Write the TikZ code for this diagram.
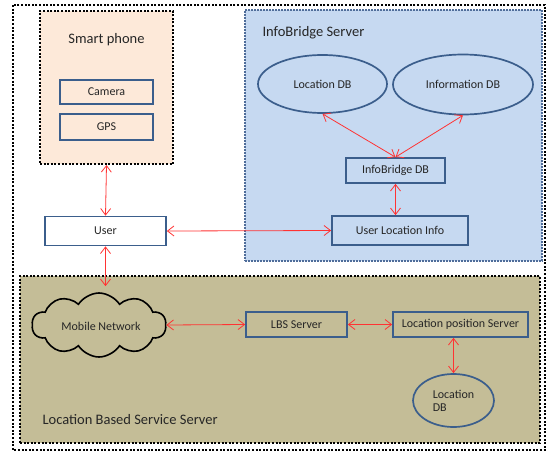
\documentclass[tikz,border=0pt]{standalone}
\usepackage{fontspec}
\setmainfont{Carlito}
\usetikzlibrary{arrows.meta,positioning,shapes.geometric,shapes.symbols}
\definecolor{ibblue}{HTML}{C6D9F1}
\definecolor{ibedge}{HTML}{4F6D9A}
\definecolor{phonepeach}{HTML}{FDE9D9}
\definecolor{lbskhaki}{HTML}{C4BD97}
\definecolor{boxedge}{HTML}{3B5E8C}
\definecolor{linkred}{HTML}{FF3333}
\definecolor{txtgray}{HTML}{262626}

\begin{document}
\begin{tikzpicture}[x=1pt, y=-1pt,
  every node/.style={font=\fontsize{12}{13}\selectfont, text=txtgray},
  dotframe/.style={line width=2pt, dash pattern=on 2pt off 1.6pt},
  areabox/.style={rectangle, inner sep=0pt},
  unitbox/.style={rectangle, draw=boxedge, line width=1.7pt, inner sep=0pt},
  dbell/.style={ellipse, draw=boxedge, line width=1.7pt, inner sep=0pt},
  titletext/.style={font=\fontsize{14.5}{16}\selectfont},
  link/.style={linkred, line width=0.8pt,
    {Straight Barb[length=6.5pt,width=10pt]}-{Straight Barb[length=6.5pt,width=10pt]}}]

  \useasboundingbox (0,0) rectangle (549,453);

  % ---- Outer frame ----
  \draw[dotframe, black] (13,5) rectangle (545,450);

  % ---- Smart phone ----
  \node[areabox, fill=phonepeach, draw=black, dotframe,
    minimum width=133, minimum height=153] (phone) at (106.5,87.5) {};
  \node[titletext] (phonetitle) at (106.5,40) {Smart phone};
  \node[unitbox, fill=phonepeach, minimum width=93, minimum height=24]
    (camera) at (106.5,92) {Camera};
  \node[unitbox, fill=phonepeach, minimum width=93, minimum height=26]
    (gps) at (106.5,127) {GPS};

  % ---- User ----
  \node[unitbox, fill=white, minimum width=121, minimum height=29]
    (user) at (105.5,231) {User};

  % ---- InfoBridge Server ----
  \node[areabox, fill=ibblue, draw=ibedge, line width=1.6pt,
    dash pattern=on 1.6pt off 1.4pt,
    minimum width=297, minimum height=251] (ibserver) at (393.5,135.5) {};
  \node[titletext, anchor=west] (ibtitle) at (259,33) {InfoBridge Server};
  \node[dbell, fill=ibblue, minimum width=129, minimum height=58]
    (locdb) at (322.5,84) {Location\ DB};
  \node[dbell, fill=ibblue, minimum width=140, minimum height=60]
    (infodb) at (463,84.5) {Information\ DB};
  \node[unitbox, fill=ibblue, minimum width=99, minimum height=25]
    (ibdb) at (395.5,170.5) {InfoBridge DB};
  \node[unitbox, fill=ibblue, minimum width=136, minimum height=29]
    (uli) at (400,230.5) {User Location\ Info};

  % ---- Location Based Service Server ----
  \node[areabox, fill=lbskhaki, draw=black, dotframe,
    minimum width=520, minimum height=167] (lbsarea) at (280,359.5) {};
  \node[titletext, anchor=west] (lbstitle) at (39,420)
    {Location Based Service Server};
  \node[cloud, cloud puffs=10, cloud puff arc=115, aspect=2,
    draw=black, line width=1.6pt, fill=lbskhaki, inner sep=0pt,
    minimum width=134, minimum height=64] (mobnet) at (99,325) {};
  \node (mobtext) at (101,326) {Mobile Network};
  \node[unitbox, fill=lbskhaki, minimum width=101, minimum height=25]
    (lbs) at (296.5,324.5) {LBS\ Server};
  \node[unitbox, fill=lbskhaki, minimum width=135, minimum height=25]
    (lps) at (460.5,324.5) {Location position\ Server};
  \node[dbell, fill=lbskhaki, minimum width=81, minimum height=53,
    align=left] (lbsdb) at (453.5,400.5) {Location\\DB};

  % ---- Connectors ----
  \draw[link] (phone.south) -- (user.north);
  \draw[link] (user.east) -- (uli.west);
  \draw[link] (user.south) -- ([yshift=6]user.south |- mobnet.north);
  \draw[link] (locdb.south) -- (ibdb.north);
  \draw[link] (infodb.south) -- (ibdb.north);
  \draw[link] (ibdb.south) -- (ibdb.south |- uli.north);
  \draw[link] (mobnet.east) -- (lbs.west);
  \draw[link] (lbs.east) -- (lps.west);
  \draw[link] (lps.south -| lbsdb.north) -- (lbsdb.north);

\end{tikzpicture}
\end{document}
